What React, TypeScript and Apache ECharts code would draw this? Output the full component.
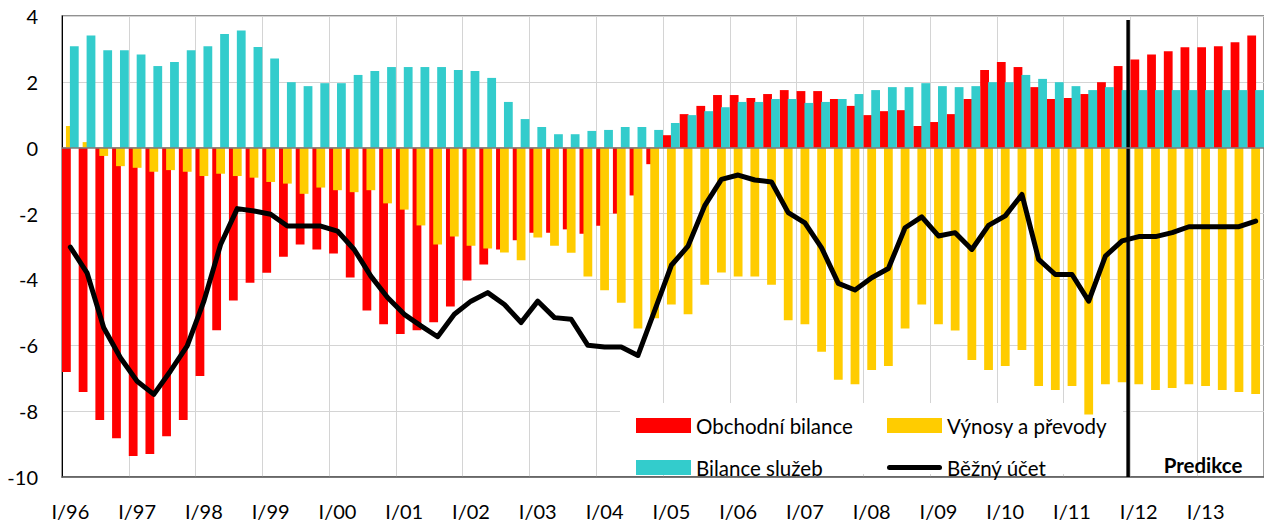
import React, { useEffect, useRef } from "react";
import * as echarts from "echarts";

const years = ["96", "97", "98", "99", "00", "01", "02", "03", "04", "05", "06", "07", "08", "09", "10", "11", "12", "13"];
const quarters = ["I", "II", "III", "IV"];
const categories: string[] = years.flatMap((y) => quarters.map((q) => `${q}/${y}`));

const seriesNames = ["Obchodní bilance", "Výnosy a převody", "Bilance služeb", "Běžný účet"];

const tradeBalance = [
  -6.81, -7.42, -8.27, -8.82, -9.36, -9.3, -8.76, -8.27, -6.93, -5.54, -4.64, -4.1,
  -3.8, -3.31, -2.94, -3.09, -3.21, -3.94, -4.94, -5.36, -5.66, -5.54, -5.3, -4.82,
  -4.03, -3.55, -3.09, -2.81, -2.58, -2.58, -2.48, -2.61, -2.37, -2.0, -1.45, -0.5,
  0.38, 1.02, 1.27, 1.6, 1.6, 1.51, 1.63, 1.75, 1.72, 1.72, 1.48, 1.27,
  0.99, 1.11, 1.14, 0.66, 0.78, 1.02, 1.48, 2.36, 2.6, 2.45, 1.84, 1.48,
  1.51, 1.63, 1.99, 2.48, 2.68, 2.83, 2.93, 3.05, 3.05, 3.08, 3.2, 3.41,
];

const incomeTransfers = [
  0.66, 0.17, -0.25, -0.56, -0.61, -0.73, -0.68, -0.73, -0.86, -0.79, -0.86, -0.91,
  -1.04, -1.09, -1.4, -1.21, -1.29, -1.35, -1.29, -1.69, -1.88, -2.36, -2.94, -2.7,
  -2.98, -3.06, -3.18, -3.42, -2.73, -2.98, -3.19, -3.91, -4.33, -4.71, -5.49, -5.18,
  -4.76, -5.06, -4.16, -3.79, -3.91, -3.91, -4.16, -5.24, -5.36, -6.2, -7.05, -7.18,
  -6.75, -6.63, -5.49, -4.76, -5.36, -5.55, -6.45, -6.75, -6.63, -6.14, -7.24, -7.36,
  -7.24, -8.1, -7.18, -7.12, -7.18, -7.36, -7.3, -7.18, -7.24, -7.36, -7.42, -7.48,
];

const servicesBalance = [
  3.08, 3.41, 2.96, 2.96, 2.83, 2.48, 2.6, 2.96, 3.08, 3.45, 3.56, 3.06,
  2.71, 1.99, 1.87, 1.96, 1.96, 2.21, 2.33, 2.45, 2.45, 2.45, 2.45, 2.36,
  2.33, 2.12, 1.39, 0.87, 0.63, 0.41, 0.41, 0.51, 0.54, 0.63, 0.63, 0.54,
  0.75, 0.99, 1.11, 1.23, 1.39, 1.39, 1.48, 1.48, 1.36, 1.39, 1.48, 1.63,
  1.75, 1.84, 1.84, 1.96, 1.87, 1.84, 1.87, 1.99, 1.99, 2.21, 2.09, 1.99,
  1.87, 1.75, 1.84, 1.75, 1.75, 1.75, 1.75, 1.75, 1.75, 1.75, 1.75, 1.75,
];

const currentAccount = [
  -3.02, -3.8, -5.47, -6.38, -7.09, -7.49, -6.78, -6.02, -4.66, -2.94, -1.85, -1.92,
  -2.02, -2.38, -2.38, -2.38, -2.53, -3.09, -3.9, -4.55, -5.06, -5.41, -5.74, -5.06,
  -4.66, -4.4, -4.76, -5.31, -4.66, -5.16, -5.21, -6.0, -6.05, -6.05, -6.31, -4.95,
  -3.57, -2.99, -1.76, -0.96, -0.83, -0.98, -1.04, -1.97, -2.28, -3.04, -4.12, -4.32,
  -3.95, -3.67, -2.43, -2.1, -2.68, -2.58, -3.09, -2.36, -2.07, -1.42, -3.39, -3.85,
  -3.85, -4.66, -3.29, -2.83, -2.7, -2.7, -2.58, -2.4, -2.4, -2.4, -2.4, -2.23,
];

// position (in quarters from the start) of the forecast divider, and its vertical extent
const predictionStart = 63.86;
const predictionSpan = [-10, 3.88];
const predictionLabel = "Predikce";

const yTicks = { min: -10, max: 4, interval: 2 };

const FONT = "Lato, 'Open Sans', sans-serif";
const LINE_ICON = "path://M2.5,0 H52.5 A2.5,2.5 0 0 1 52.5,5 H2.5 A2.5,2.5 0 0 1 2.5,0 Z";

export default function App() {
  const ref = useRef<HTMLDivElement>(null);
  useEffect(() => {
    if (!ref.current) return;
    const chart = echarts.init(ref.current, null, { renderer: "svg" });
    const barCommon = {
      type: "bar" as const,
      barGap: "-55%",
      barCategoryGap: "0%",
      xAxisIndex: 0,
      yAxisIndex: 0,
      silent: true,
    };
    chart.setOption({
      animation: false,
      backgroundColor: "#fff",
      grid: {
        left: 62,
        right: -8,
        top: 16,
        bottom: 47,
        show: true,
        borderColor: "#6e6e6e",
        borderWidth: 1.3,
        backgroundColor: "transparent",
      },
      legend: {
        left: 636,
        top: 415,
        padding: 0,
        width: 490,
        itemWidth: 55,
        itemHeight: 15,
        itemGap: 21,
        selectedMode: false,
        symbolKeepAspect: true,
        textStyle: { fontFamily: FONT, fontSize: 20.5, color: "#000", width: 170, lineHeight: 15 },
        data: [
          { name: seriesNames[0], icon: "rect" },
          { name: seriesNames[1], icon: "rect" },
          { name: seriesNames[2], icon: "rect" },
          { name: seriesNames[3], icon: LINE_ICON, itemStyle: { color: "#000", borderWidth: 0 }, lineStyle: { width: 0 } },
        ],
      },
      xAxis: [
        {
          type: "category",
          data: categories,
          boundaryGap: true,
          axisLine: { onZero: false, lineStyle: { color: "#5a5a5a", width: 1.5 } },
          axisTick: { show: false },
          axisLabel: { interval: 3, margin: 24, fontFamily: FONT, fontSize: 20, color: "#000" },
          splitLine: { show: true, interval: 3, lineStyle: { color: "#d4d4d4", width: 1 } },
        },
        { type: "value", min: 0, max: categories.length, show: false },
      ],
      yAxis: {
        type: "value",
        min: yTicks.min,
        max: yTicks.max,
        interval: yTicks.interval,
        axisLine: { show: true, lineStyle: { color: "#000", width: 1 } },
        axisTick: { show: false },
        axisLabel: { margin: 24, fontFamily: FONT, fontSize: 20, color: "#000" },
        splitLine: { lineStyle: { color: "#d4d4d4", width: 1 } },
      },
      graphic: [
        {
          type: "rect",
          z: 1,
          silent: true,
          shape: { x: 620, y: 403, width: 503, height: 71 },
          style: { fill: "#fff" },
        },
        {
          type: "text",
          z: 10,
          silent: true,
          x: 1203,
          y: 465,
          style: {
            text: predictionLabel,
            fontFamily: FONT,
            fontWeight: "bold",
            fontSize: 20.5,
            fill: "#000",
            align: "center",
            verticalAlign: "middle",
          },
        },
      ],
      series: [
        { ...barCommon, name: seriesNames[0], data: tradeBalance, itemStyle: { color: "#ff0000" } },
        { ...barCommon, name: seriesNames[1], data: incomeTransfers, itemStyle: { color: "#ffcc00" } },
        {
          ...barCommon,
          name: seriesNames[2],
          data: servicesBalance,
          itemStyle: { color: "#33cccc" },
          markLine: {
            silent: true,
            symbol: "none",
            label: { show: false },
            lineStyle: { color: "#7a7a7a", width: 1.6, type: "solid" },
            data: [{ yAxis: 0 }],
          },
        },
        {
          type: "line",
          name: seriesNames[3],
          data: currentAccount,
          symbol: "none",
          silent: true,
          lineStyle: { color: "#000", width: 5, cap: "round", join: "round" },
          itemStyle: { color: "#000" },
          z: 3,
        },
        {
          type: "line",
          name: "divider",
          xAxisIndex: 1,
          yAxisIndex: 0,
          data: [
            [predictionStart, predictionSpan[0]],
            [predictionStart, predictionSpan[1]],
          ],
          symbol: "none",
          silent: true,
          lineStyle: { color: "#000", width: 3.5 },
          z: 4,
        },
      ],
    });
    return () => chart.dispose();
  }, []);
  return (
    <div
      ref={ref}
      style={{ position: "absolute", left: 0, top: 0, width: 1264, height: 524 }}
    />
  );
}
